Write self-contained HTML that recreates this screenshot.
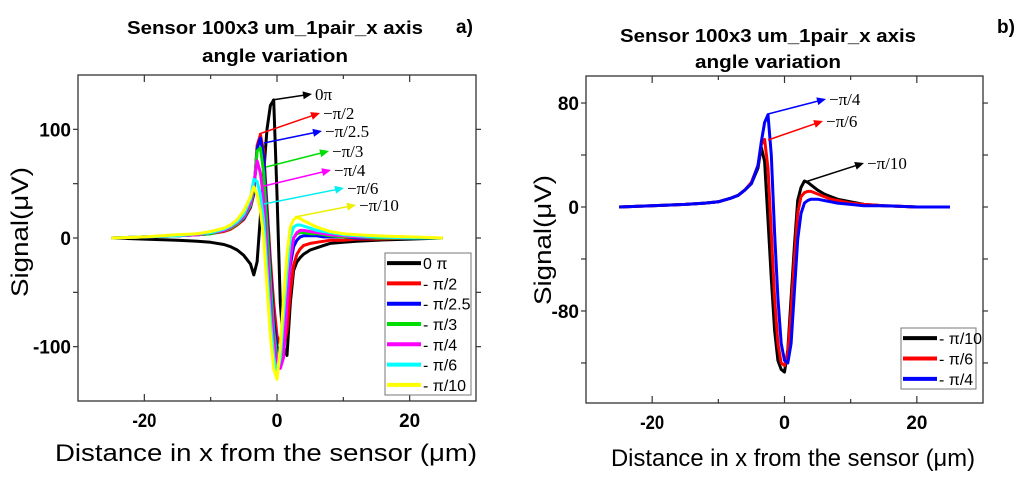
<!DOCTYPE html>
<html><head><meta charset="utf-8"><style>
html,body{margin:0;padding:0;background:#fff;width:1024px;height:477px;overflow:hidden}
svg{display:block;font-family:"Liberation Sans",sans-serif}
</style></head><body>
<svg id="fig" width="1024" height="477" viewBox="0 0 1024 477">
<g id="pa"></g>
<g id="pb"></g>
</svg>
<script>
// ---- data (panel a) ----
const xsA = [-25,-20,-15,-12,-10,-8,-7,-6,-5,-4,-3.5,-3,-2.5,-2,-1.5,-1,-0.5,0,0.5,1,1.5,2,2.5,3,3.5,4,5,6,7,8,10,12,15,20,25];
const namesA = ["0 π","- π/2","- π/2.5","- π/3","- π/4","- π/6","- π/10"];
const colorsA = ["#000000","#ff0000","#0000ff","#00dd00","#ff00ff","#00ffff","#ffff00"];
const s0 = [0,-1,-2,-3,-4,-6,-8,-11,-16,-24,-34,-22,20,60,100,122,127,40,-60,-100,-108,-60,-30,-22,-18,-15,-11,-9,-7,-5,-4,-3,-2,-1,0];
const s1 = [0,1,2,3,4,6,8,12,17,28,40,85,95,80,30,-20,-60,-90,-98,-100,-85,-50,-25,-15,-10,-7,-5,-4,-3,-2,-2,-1,-1,0,0];
const s2 = [0,1,2,3,4,7,9,13,18,29,42,82,92,75,20,-30,-75,-100,-108,-90,-55,-25,-8,-2,1,2,2,2,1,1,1,0,0,0,0];
const s3 = [0,1,2,3,4,7,9,13,19,30,45,80,83,60,10,-40,-85,-110,-115,-80,-40,-15,0,4,5,5,4,4,3,2,1,1,0,0,0];
const s4 = [0,1,2,3,5,7,10,14,20,32,50,71,60,35,-10,-55,-95,-115,-120,-110,-60,-20,0,5,7,7,6,5,4,3,2,1,1,0,0];
const s5 = [0,1,2,4,5,8,11,15,22,36,54,52,40,15,-30,-75,-110,-125,-110,-70,-30,0,10,12,12,11,9,7,6,5,3,2,1,0,0];
const s6 = [0,1,3,4,6,9,12,17,25,38,47,40,25,0,-45,-90,-120,-130,-100,-55,-15,10,17,19,18,16,13,10,8,6,4,3,2,1,0];
const seriesA = [s0,s1,s2,s3,s4,s5,s6];
const xTicks = [-20,0,20];
const yTicksA = [100,0,-100];
// ---- data (panel b) ----
const xsB = [-25,-20,-15,-12,-10,-8,-7,-6,-5,-4,-3.5,-3,-2.5,-2,-1.5,-1,-0.5,0,0.5,1,1.5,2,2.5,3,3.5,4,5,6,7,8,10,12,15,20,25];
const namesB = ["- π/10","- π/6","- π/4"];
const colorsB = ["#000000","#ff0000","#0000ff"];
const b0 = [0,1,2,3,4,7,9,13,18,30,46,35,-10,-55,-95,-118,-125,-127,-110,-70,-30,5,15,20,19,17,13,10,8,6,4,2,1,0,0];
const b1 = [0,1,2,3,4,7,9,13,19,32,48,52,30,-20,-70,-105,-120,-122,-112,-80,-40,-5,8,11,12,12,10,8,6,5,3,2,1,0,0];
const b2 = [0,1,2,3,4,7,9,13,18,32,50,65,71,40,-20,-70,-105,-118,-120,-105,-65,-25,-5,3,5,6,6,5,4,3,2,1,1,0,0];
const seriesB = [b0,b1,b2];
const yTicksB = [80,0,-80];

const NS="http://www.w3.org/2000/svg";
function mk(tag, attrs, parent){const e=document.createElementNS(NS,tag);for(const k in attrs)e.setAttribute(k,attrs[k]);parent.appendChild(e);return e;}

function panel(g, P, xs, series, colors, names, yTicks, leg, annos){
  const sx=v=>P.L+(v-P.x0)/(P.x1-P.x0)*(P.R-P.L);
  const sy=v=>P.B-(v-P.y0)/(P.y1-P.y0)*(P.B-P.T);
  const frame=mk('rect',{x:P.L,y:P.T,width:P.R-P.L,height:P.B-P.T,fill:'none',stroke:'#333','stroke-width':1.3},g);
  
  
  for(let v=-30;v<=30;v+=10){
    if(v<=P.x0||v>=P.x1) continue;
    const L=(v%20===0)?7:4;
    const t1=mk('line',{x1:sx(v),x2:sx(v),y1:P.B,y2:P.B-L,stroke:'#333','stroke-width':1.2},g);
    
    const t2=mk('line',{x1:sx(v),x2:sx(v),y1:P.T,y2:P.T+L,stroke:'#333','stroke-width':1.2},g);
    
  }
  xTicks.forEach(v=>{
    const t=mk('text',{x:sx(v),y:P.B+26,'text-anchor':'middle','font-size':19,'font-weight':'bold',textLength:v===0?11:(v<0?24:21),lengthAdjust:'spacingAndGlyphs'},g);
    t.textContent=v;
    
  });
  const ystep=(yTicks[0]-yTicks[1])/2;
  for(let v=yTicks[2]-ystep;v<=yTicks[0]+ystep;v+=ystep){
    if(v<=P.y0||v>=P.y1) continue;
    const t=mk('line',{x1:P.L-5,x2:P.L,y1:sy(v),y2:sy(v),stroke:'#333','stroke-width':1.2},g);
    
    const t2=mk('line',{x1:P.R,x2:P.R+5,y1:sy(v),y2:sy(v),stroke:'#333','stroke-width':1.2},g);
    
  }
  yTicks.forEach(v=>{
    const t=mk('text',{x:P.L-7,y:sy(v)+7,'text-anchor':'end','font-size':19,'font-weight':'bold'},g);
    t.textContent=v;
    
  });
  series.forEach((s,i)=>{
    const d=s.map((v,j)=>(j?'L':'M')+sx(xs[j]).toFixed(1)+','+sy(v).toFixed(1)).join('');
    const p=mk('path',{d:d,fill:'none',stroke:colors[i],'stroke-width':3,'stroke-linejoin':'round'},g);
    
  });
  const lg=mk('g',{},g);
  
  mk('rect',{x:leg.x,y:leg.y,width:leg.w,height:leg.h,fill:'#fff',stroke:'#777','stroke-width':1},lg);
  const rh=leg.h/names.length;
  names.forEach((n,i)=>{
    const cy=leg.y+rh*(i+0.5);
    const l=mk('line',{x1:leg.x+2,x2:leg.x+36,y1:cy,y2:cy,stroke:colors[i],'stroke-width':4},lg);
    
    const t=mk('text',{x:leg.x+38,y:cy+6,'font-size':16},lg);
    t.textContent=n;
    
  });
  annos.forEach(a=>{
    const ang=Math.atan2(a[3]-a[1],a[2]-a[0]);
    const l=mk('line',{x1:a[0],y1:a[1],x2:a[2]-6*Math.cos(ang),y2:a[3]-6*Math.sin(ang),stroke:a[4],'stroke-width':1.5},g);
    
    const hx=a[2],hy=a[3];
    const pts=[[hx,hy],[hx-9*Math.cos(ang)+4*Math.sin(ang),hy-9*Math.sin(ang)-4*Math.cos(ang)],[hx-9*Math.cos(ang)-4*Math.sin(ang),hy-9*Math.sin(ang)+4*Math.cos(ang)]];
    mk('polygon',{points:pts.map(p=>p.join(',')).join(' '),fill:a[4]},g);
    const t=mk('text',{x:a[2]+3,y:a[3]+6,'font-size':17,'font-family':'"Liberation Serif",serif'},g);
    t.textContent=a[5];
    
  });
}

const ga=document.getElementById('pa'), gb=document.getElementById('pb');
panel(ga,{L:78,R:476,T:75,B:401,x0:-30,x1:30,y0:-150,y1:150},xsA,seriesA,colorsA,namesA,yTicksA,
  {x:385,y:253,w:86,h:142},
  [[272,100,312,94,'#000','0π'],[259,134,320,113,'#f00','−π/2'],[264,143,322,131,'#00f','−π/2.5'],[266,167,329,151,'#0d0','−π/3'],
   [264,186,331,170,'#f0f','−π/4'],[264,204,344,188,'#0ee','−π/6'],[295,217,356,205,'#ee0','−π/10']]);
panel(gb,{L:586,R:983,T:76,B:403,x0:-30,x1:30,y0:-150.8,y1:100.8},xsB,seriesB,colorsB,namesB,yTicksB,
  {x:901,y:328,w:75,h:61},
  [[768,114,826,99,'#00f','−π/4'],[768,140,823,121,'#f00','−π/6'],[805,182,864,163,'#000','−π/10']]);

function txt(parent,attrs,s,name){const t=mk('text',attrs,parent);t.textContent=s;return t;}
txt(ga,{x:275,y:34,'text-anchor':'middle','font-size':18,'font-weight':'bold',textLength:296,lengthAdjust:'spacingAndGlyphs'},'Sensor 100x3 um_1pair_x axis','chart-title-a');
txt(ga,{x:275,y:62,'text-anchor':'middle','font-size':18,'font-weight':'bold',textLength:146,lengthAdjust:'spacingAndGlyphs'},'angle variation','chart-subtitle-a');
txt(ga,{x:456,y:33,'font-size':19,'font-weight':'bold'},'a)','panel-label-a');
txt(gb,{x:768,y:42,'text-anchor':'middle','font-size':18,'font-weight':'bold',textLength:296,lengthAdjust:'spacingAndGlyphs'},'Sensor 100x3 um_1pair_x axis','chart-title-b');
txt(gb,{x:768,y:68,'text-anchor':'middle','font-size':18,'font-weight':'bold',textLength:146,lengthAdjust:'spacingAndGlyphs'},'angle variation','chart-subtitle-b');
txt(gb,{x:997,y:33,'font-size':19,'font-weight':'bold'},'b)','panel-label-b');
txt(ga,{x:266,y:461,'text-anchor':'middle','font-size':24,textLength:422,lengthAdjust:'spacingAndGlyphs'},'Distance in x from the sensor (μm)','x-axis-title-a');
txt(gb,{x:793,y:466,'text-anchor':'middle','font-size':24,textLength:364,lengthAdjust:'spacingAndGlyphs'},'Distance in x from the sensor (μm)','x-axis-title-b');
txt(ga,{x:0,y:0,'text-anchor':'middle','font-size':24,textLength:130,lengthAdjust:'spacingAndGlyphs',transform:'translate(28,232) rotate(-90)'},'Signal(μV)','y-axis-title-a');
txt(gb,{x:0,y:0,'text-anchor':'middle','font-size':24,textLength:130,lengthAdjust:'spacingAndGlyphs',transform:'translate(551,240) rotate(-90)'},'Signal(μV)','y-axis-title-b');
</script>
</body></html>
